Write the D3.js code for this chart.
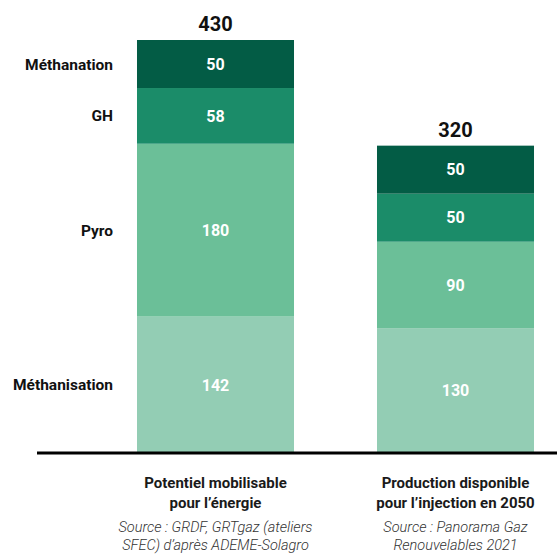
<!DOCTYPE html>
<html><head><meta charset="utf-8">
<script src="https://cdn.jsdelivr.net/npm/d3@7"></script>
<style>
html,body{margin:0;padding:0;background:#fff;}
svg{display:block;font-family:Roboto,"Noto Sans",sans-serif;}
</style></head>
<body>
<svg id="chart" width="557" height="555"></svg>
<script>
const categories = ["Potentiel mobilisable", "Production disponible"];
const catLine1 = ["Potentiel mobilisable", "Production disponible"];
const catLine2 = ["pour l’énergie", "pour l’injection en 2050"];
const sourceLine1 = ["Source : GRDF, GRTgaz (ateliers", "Source : Panorama Gaz"];
const sourceLine2 = ["SFEC) d’après ADEME-Solagro", "Renouvelables 2021"];
const seriesNames = ["Méthanisation", "Pyro", "GH", "Méthanation"];
const methanisation = [142, 130];
const pyro = [180, 90];
const gh = [58, 50];
const methanation = [50, 50];
const totals = [430, 320];
const colors = ["#93cdb4", "#6bbf98", "#1b8c69", "#035c45"];

const svg = d3.select("#chart");
const data = categories.map((c, i) => ({
  cat: c,
  "Méthanisation": methanisation[i],
  "Pyro": pyro[i],
  "GH": gh[i],
  "Méthanation": methanation[i]
}));
const stack = d3.stack().keys(seriesNames)(data);

const x = d3.scaleBand().domain(categories).range([95.5, 575.5])
  .paddingInner(0.3458).paddingOuter(0.1729);
const y = d3.scaleLinear().domain([0, 430]).range([453, 40]);
const color = d3.scaleOrdinal().domain(seriesNames).range(colors);

// bars
const layers = svg.append("g").selectAll("g").data(stack).join("g")
  .attr("fill", d => color(d.key));
layers.selectAll("rect").data(d => d).join("rect")
  .attr("x", d => x(d.data.cat))
  .attr("width", x.bandwidth())
  .attr("y", d => y(d[1]))
  .attr("height", d => y(d[0]) - y(d[1]));

// value labels
layers.selectAll("text").data(d => d).join("text")
  .attr("x", d => x(d.data.cat) + x.bandwidth() / 2)
  .attr("y", d => (y(d[0]) + y(d[1])) / 2)
  .attr("dy", "0.36em")
  .attr("text-anchor", "middle")
  .attr("fill", "#fff")
  .attr("font-weight", 700)
  .attr("font-size", 16)
  .text(d => d[1] - d[0]);

// totals
svg.append("g").selectAll("text").data(categories).join("text")
  .attr("x", c => x(c) + x.bandwidth() / 2)
  .attr("y", (c, i) => y(totals[i]) - 16)
  .attr("dy", "0.36em")
  .attr("text-anchor", "middle")
  .attr("fill", "#111")
  .attr("font-weight", 700)
  .attr("font-size", 20)
  .text((c, i) => totals[i]);

// series labels on the left (at first bar segments)
svg.append("g").selectAll("text").data(stack).join("text")
  .attr("x", 113)
  .attr("y", d => (y(d[0][0]) + y(d[0][1])) / 2)
  .attr("dy", "0.36em")
  .attr("text-anchor", "end")
  .attr("fill", "#111")
  .attr("font-weight", 700)
  .attr("font-size", 15.5)
  .text(d => d.key);

// baseline axis
svg.append("line")
  .attr("x1", 37).attr("x2", 557)
  .attr("y1", y(0)).attr("y2", y(0))
  .attr("stroke", "#000").attr("stroke-width", 3);

// category labels
const catG = svg.append("g").selectAll("g").data(categories).join("g")
  .attr("transform", c => `translate(${x(c) + x.bandwidth() / 2},0)`);
catG.append("text").attr("y", 483).attr("dy", "0.36em")
  .attr("text-anchor", "middle").attr("fill", "#1a1a1a")
  .attr("font-weight", 700).attr("font-size", 15)
  .text((c, i) => catLine1[i]);
catG.append("text").attr("y", 503).attr("dy", "0.36em")
  .attr("text-anchor", "middle").attr("fill", "#1a1a1a")
  .attr("font-weight", 700).attr("font-size", 15)
  .text((c, i) => catLine2[i]);
catG.append("text").attr("y", 527).attr("dy", "0.36em")
  .attr("text-anchor", "middle").attr("fill", "#333")
  .attr("font-style", "italic").attr("font-weight", 300).attr("font-size", 14.5)
  .text((c, i) => sourceLine1[i]);
catG.append("text").attr("y", 545).attr("dy", "0.36em")
  .attr("text-anchor", "middle").attr("fill", "#333")
  .attr("font-style", "italic").attr("font-weight", 300).attr("font-size", 14.5)
  .text((c, i) => sourceLine2[i]);
</script>
</body></html>
